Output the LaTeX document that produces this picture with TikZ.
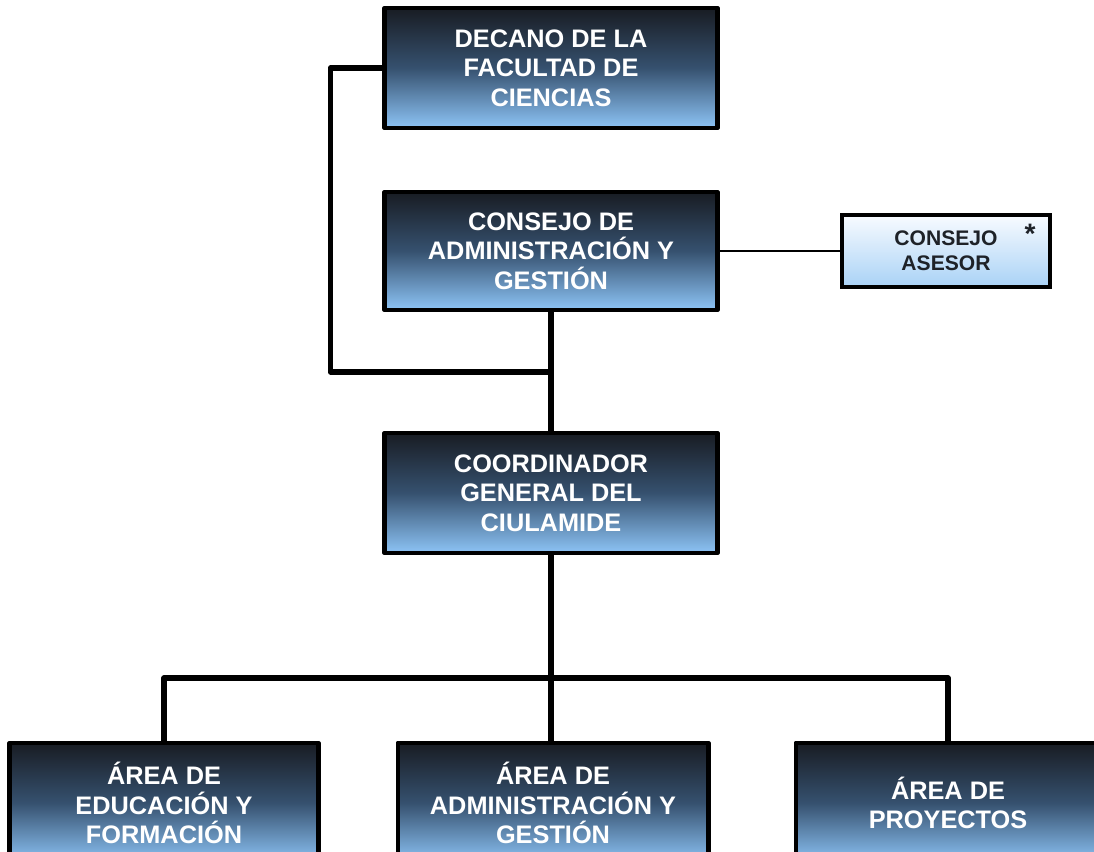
\documentclass[tikz,border=0pt]{standalone}
\usepackage{fontspec}
\setmainfont{Liberation Sans}
\usetikzlibrary{positioning}
\definecolor{BoxTop}{HTML}{181C23}
\definecolor{BoxMid}{HTML}{36516F}
\definecolor{BoxBottom}{HTML}{8DC4F6}
\definecolor{PaleTop}{HTML}{F8FBFF}
\definecolor{PaleBottom}{HTML}{A9D2F6}
\definecolor{InkDark}{HTML}{1E2228}

\begin{document}
\begin{tikzpicture}[x=0.025cm,y=-0.025cm,
  every node/.style={font=\bfseries\fontsize{18}{21}\selectfont},
  unit/.style={draw=black,line width=3.5pt,line join=round,top color=BoxTop,bottom color=BoxBottom,middle color=BoxMid,
    text=white,align=center,minimum width=8.3cm,minimum height=3cm,inner sep=0pt},
  adviser/.style={draw=black,line width=3.5pt,top color=PaleTop,bottom color=PaleBottom,
    text=InkDark,align=center,minimum width=5.2cm,minimum height=1.8cm,inner sep=0pt,font=\bfseries\fontsize{15}{18}\selectfont},
  link/.style={line width=4pt,line join=round},
  thinlink/.style={line width=1.8pt}]
  \clip (0,0) rectangle (1094,851);
  % upper chain
  \node[unit] (decano) at (551,68) {DECANO DE LA\\FACULTAD DE\\CIENCIAS};
  \node[unit,minimum height=2.95cm] (consejo) at (551,251) {CONSEJO DE\\ADMINISTRACIÓN Y\\GESTIÓN};
  \node[adviser] (asesor) at (946,251) {CONSEJO\\ASESOR};
  \node[font=\bfseries\fontsize{20}{20}\selectfont,text=InkDark] (star) at (1030,234) {*};
  \node[unit] (coord) at (551,493) {COORDINADOR\\GENERAL DEL\\CIULAMIDE};
  % areas
  \node[unit,minimum width=7.7cm] (educ) at (164,803) {ÁREA DE\\EDUCACIÓN Y\\FORMACIÓN};
  \node[unit,minimum width=7.75cm] (admin) at (553,803) {ÁREA DE\\ADMINISTRACIÓN Y\\GESTIÓN};
  \node[unit,minimum width=7.6cm] (proy) at (948,803) {ÁREA DE\\PROYECTOS};
  % connectors
  \coordinate (knot) at (551,372);
  \coordinate (bus) at (551,678);
  \draw[link] (decano.west) -- ++(-52,0) |- (knot);
  \draw[link] (consejo.south) -- (coord.north);
  \draw[thinlink] (consejo.east) -- (asesor.west);
  \draw[link] (coord.south) -- (coord.south |- admin.north);
  \draw[link] (educ.north) |- (bus) -| (proy.north);
\end{tikzpicture}
\end{document}
